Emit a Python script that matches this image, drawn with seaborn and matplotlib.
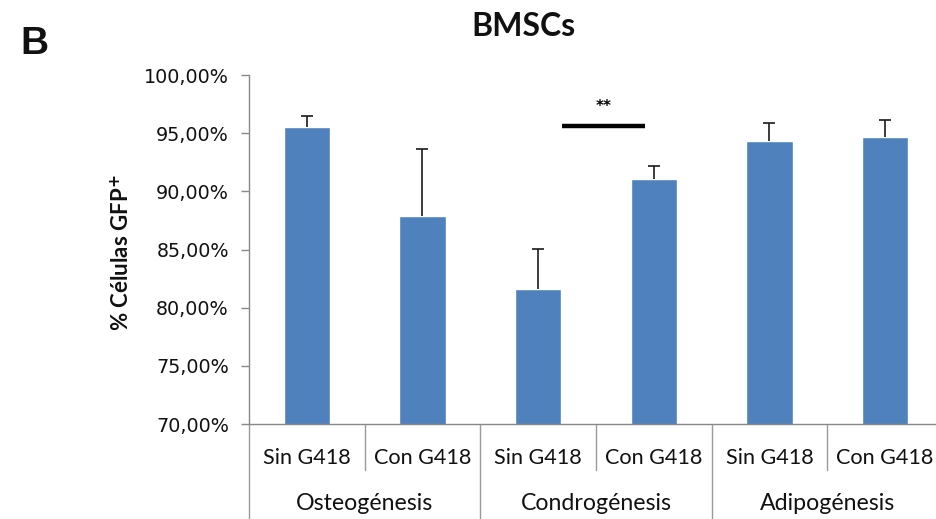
import matplotlib
matplotlib.use("Agg")
import matplotlib.pyplot as plt
import matplotlib.transforms as mtransforms
from matplotlib.lines import Line2D
import seaborn as sns
import pandas as pd

# Data
groups = ["Osteogénesis", "Condrogénesis", "Adipogénesis"]
treatments = ["Sin G418", "Con G418"]
values = [95.5, 87.9, 81.6, 91.1, 94.35, 94.7]
errors = [0.95, 5.75, 3.45, 1.05, 1.55, 1.4]
sig_span = (2.21, 2.92)
sig_level = 95.63
sig_text = "**"

labels = [f"{g}|{t}" for g in groups for t in treatments]
df = pd.DataFrame({"cond": labels, "pct": values})

sns.set_theme(style="white")
plt.rcParams["font.family"] = ["DejaVu Sans"]

W, H = 937, 519
fig = plt.figure(figsize=(W / 100, H / 100), dpi=100)
x0, x1, y0, y1 = 249, 943, 75, 424
ax = fig.add_axes([x0 / W, (H - y1) / H, (x1 - x0) / W, (y1 - y0) / H])

bar_color = "#4F81BD"
sns.barplot(data=df, x="cond", y="pct", color=bar_color, width=0.4,
            errorbar=None, saturation=1, ax=ax)
_, caps, _ = ax.errorbar(range(len(values)), values,
                         yerr=[[0] * len(values), errors],
                         fmt="none", ecolor="#1a1a1a", elinewidth=1.2,
                         capsize=4.5, capthick=1.2, zorder=3)
# only the upper whisker is shown
caps[0].set_visible(False)

ax.set_ylim(70, 100)
ax.set_xlim(-0.5, 5.5)
ticks = [70, 75, 80, 85, 90, 95, 100]
ax.set_yticks(ticks)
ax.set_yticklabels([f"{v},00%" for v in ticks], fontsize=13.8, color="#111111")
ax.tick_params(axis="y", direction="out", length=6, width=1, color="#888888",
               pad=8.5, left=True)

ax.set_xticks(range(6))
ax.set_xticklabels([t for g in groups for t in treatments],
                   fontsize=15.6, family="Lato", color="#111111")
ax.tick_params(axis="x", length=0, pad=17)
ax.set_xlabel("")

for s in ["top", "right"]:
    ax.spines[s].set_visible(False)
for s in ["left", "bottom"]:
    ax.spines[s].set_color("#888888")
    ax.spines[s].set_linewidth(1)

ax.set_ylabel(r"% Células GFP$^{\mathbf{+}}$", fontsize=16, fontweight="bold",
              family="Lato", color="#111111")
ax.yaxis.set_label_coords(-0.167, 0.49)

# Category dividers below the axis
trans = mtransforms.blended_transform_factory(ax.transData, ax.transAxes)
short_y = -(470 - y1) / (y1 - y0)
long_y = -(H + 5 - y1) / (y1 - y0)
for xpos in [0.5, 2.5, 4.5]:
    ax.add_line(Line2D([xpos, xpos], [0, short_y], transform=trans,
                       color="#9a9a9a", lw=1, clip_on=False))
for xpos in [-0.5, 1.5, 3.5]:
    ax.add_line(Line2D([xpos, xpos], [0, long_y], transform=trans,
                       color="#9a9a9a", lw=1, clip_on=False))

group_y = -(503 - y1) / (y1 - y0)
for i, g in enumerate(groups):
    ax.text(2 * i + 0.5, group_y, g, transform=trans, ha="center", va="center",
            fontsize=16.7, family="Lato", color="#111111")

# Significance bracket
ax.plot(sig_span, [sig_level, sig_level], color="black", lw=3.2,
        solid_capstyle="butt", clip_on=False)
ax.text(sum(sig_span) / 2, sig_level + 1.7, sig_text, ha="center", va="center",
        fontsize=11, fontweight="bold", color="black")

fig.text(523 / W, 1 - 27 / H, "BMSCs", ha="center", va="center",
         fontsize=23, fontweight="bold", family="Lato", color="#111111")
fig.text(20 / W, 1 - 44 / H, "B", ha="left", va="center",
         fontsize=28, fontweight="bold", family="Liberation Sans", color="#111111")

fig.savefig("out.png", dpi=100)
